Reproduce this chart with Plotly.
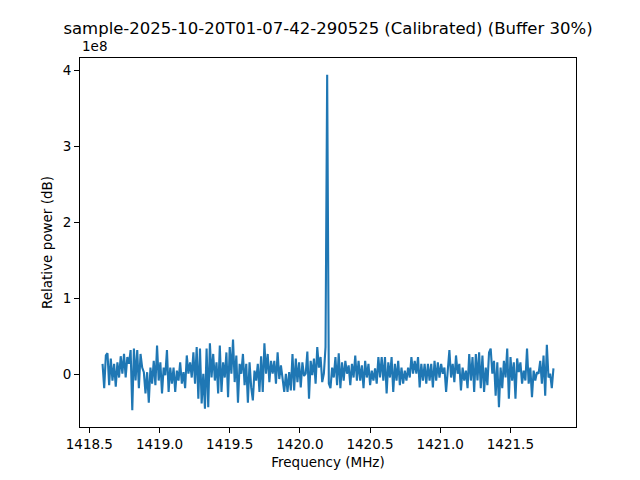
import numpy as np
import plotly.graph_objects as go

# Spectrum band (MHz)
f_start = 1418.594
f_stop = 1421.807

# Relative power values, in units of 1e8
power_e8 = [
    0.14, -0.18, 0.25, 0.28, -0.14, 0.21, -0.08, 0.14, -0.16, 0.16, -0.04, 0.24, 0.01, 0.27, -0.04, 0.23,
    0.14, 0.32, -0.47, 0.34, -0.08, 0.32, -0.18, 0.27, 0.09, 0.03, -0.25, 0.03, -0.37, 0.09, -0.12, 0.18,
    -0.14, 0.38, -0.08, 0.16, -0.25, 0.09, -0.01, 0.32, -0.23, 0.09, -0.12, 0.09, -0.23, 0.05, -0.08, 0.16,
    -0.12, 0.03, -0.18, 0.25, 0.01, 0.16, -0.04, 0.29, -0.12, 0.36, -0.32, 0.34, -0.38, 0.01, -0.45, 0.34,
    -0.43, 0.41, -0.04, 0.27, -0.08, 0.16, -0.25, 0.38, -0.23, 0.16, -0.04, 0.29, -0.30, 0.36, 0.01, 0.46,
    -0.10, 0.25, -0.37, 0.14, 0.01, 0.27, -0.14, 0.14, -0.37, 0.16,
    -0.17, -0.34, 0.05, -0.08, 0.14, -0.23, 0.24, -0.23, 0.41, 0.01, 0.27, -0.10, 0.18, 0.01, 0.18, -0.12,
    0.29, -0.06, 0.12, -0.04, -0.23, 0.01, -0.23, 0.03, -0.21, 0.27, -0.21, 0.21, -0.10, 0.16, -0.17, 0.16,
    -0.02, 0.01, 0.30, -0.32, 0.18, -0.01, 0.21, -0.12, 0.36, 0.09, 0.23, -0.10, 0.01, 0.36, 3.94, -0.12,
    -0.18, 0.09, -0.04, 0.23, -0.14, 0.28, -0.18, 0.16, -0.08, 0.18, 0.01, 0.12, -0.14, 0.14, -0.04, 0.25,
    -0.08, 0.18, -0.08, 0.12, -0.18, 0.18, -0.04, 0.14, -0.14, 0.05, -0.08, 0.08, -0.12, 0.23, -0.04, 0.23,
    -0.08, 0.23, -0.25, 0.16, -0.04, 0.23, -0.23, 0.14, -0.08, 0.18, -0.14, 0.09, -0.12, 0.05, -0.08, 0.09,
    -0.04, 0.23, 0.01,
    0.18, 0.01, 0.23, -0.17, 0.14, -0.08, 0.14, -0.12, 0.14, -0.08, 0.14, -0.17, 0.18, -0.08, 0.16, -0.04,
    0.14, 0.01, 0.09, -0.23, 0.05, 0.32, -0.04, 0.14, -0.10, 0.25, 0.01, 0.14, -0.21, 0.09, -0.08, 0.05,
    -0.18, 0.27, -0.08, 0.23, -0.23, 0.27, -0.08, 0.29, -0.18, 0.25, -0.23, 0.09, -0.14, 0.29, 0.34, 0.01,
    0.18, -0.28, 0.16, -0.43, 0.09, -0.18, 0.18, -0.04, 0.34, -0.32, 0.23, -0.08, 0.16, -0.32, 0.21, 0.03,
    0.16, -0.12, 0.05, -0.08, 0.34, -0.12, 0.09, -0.30, 0.05, -0.08, 0.03, 0.01, 0.18, -0.12, 0.25, -0.28,
    0.39, -0.04, 0.01, -0.18, 0.08,
]

x_ticks = [1418.5, 1419.0, 1419.5, 1420.0, 1420.5, 1421.0, 1421.5]
y_ticks = [0, 1, 2, 3, 4]

freq = np.linspace(f_start, f_stop, len(power_e8))

fig = go.Figure()
fig.add_trace(go.Scatter(x=freq, y=power_e8, mode="lines",
                         line=dict(color="#1f77b4", width=2.1), showlegend=False))

pad_x = 0.05 * (f_stop - f_start)
ymin, ymax = min(power_e8), max(power_e8)
pad_y = 0.05 * (ymax - ymin)

axis_common = dict(showline=True, linecolor="black", linewidth=1.1, mirror=True,
                   ticks="outside", ticklen=5, tickwidth=1.1, tickcolor="black",
                   showgrid=False, zeroline=False, automargin=False,
                   tickfont=dict(family="DejaVu Sans", size=13.5, color="black"))

# page body adds an 8px offset; compensate so the plot lands where the reference's does
fig.update_layout(
    width=632, height=472,
    margin=dict(l=72, r=64, t=49.6, b=52.8),
    paper_bgcolor="white", plot_bgcolor="white",
    title=dict(text="sample-2025-10-20T01-07-42-290525 (Calibrated) (Buffer 30%)",
               x=(328 - 8) / 632, xanchor="center", y=1 - (28 - 8) / 472, yanchor="middle",
               font=dict(family="DejaVu Sans", size=16.5, color="black")),
    xaxis=dict(range=[f_start - pad_x, f_stop + pad_x], tickvals=x_ticks,
               ticktext=[f"{v:.1f}" for v in x_ticks],
               title=dict(text="Frequency (MHz)", standoff=6,
                          font=dict(family="DejaVu Sans", size=13.5, color="black")),
               **axis_common),
    yaxis=dict(range=[ymin - pad_y, ymax + pad_y], tickvals=y_ticks,
               ticktext=[str(v) for v in y_ticks],
               title=dict(text="Relative power (dB)", standoff=6,
                          font=dict(family="DejaVu Sans", size=13.5, color="black")),
               **axis_common),
    annotations=[dict(text="1e8", xref="paper", yref="paper", x=0, y=1.0,
                      xanchor="left", yanchor="bottom", yshift=2, showarrow=False,
                      font=dict(family="DejaVu Sans", size=13.5, color="black"))],
)

fig.write_html("out.html")
